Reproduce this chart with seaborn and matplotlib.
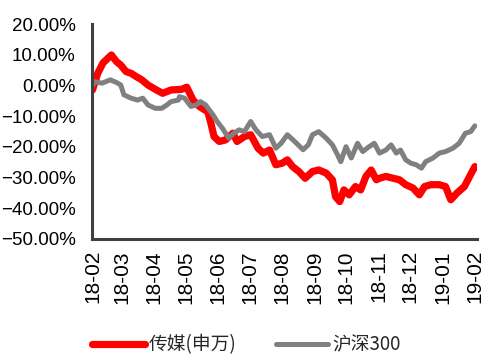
import matplotlib
matplotlib.use("Agg")
import matplotlib.pyplot as plt
import matplotlib.dates as mdates
from matplotlib.ticker import PercentFormatter, MultipleLocator
import pandas as pd
import seaborn as sns

# Cumulative return (%) of the media sector index (SW) and CSI 300
media_dates = [
    "2018-02-01", "2018-02-06", "2018-02-11", "2018-02-19", "2018-02-24", "2018-02-28",
    "2018-03-05", "2018-03-10", "2018-03-15", "2018-03-20", "2018-03-26", "2018-04-03",
    "2018-04-09", "2018-04-17", "2018-04-27", "2018-05-02", "2018-05-08", "2018-05-14",
    "2018-05-22", "2018-05-25", "2018-05-28", "2018-06-02", "2018-06-08", "2018-06-15",
    "2018-06-19", "2018-06-26", "2018-07-02", "2018-07-09", "2018-07-14", "2018-07-20",
    "2018-07-26", "2018-08-01", "2018-08-06", "2018-08-11", "2018-08-17", "2018-08-23",
    "2018-08-30", "2018-09-05", "2018-09-12", "2018-09-18", "2018-09-21", "2018-09-25",
    "2018-09-29", "2018-10-04", "2018-10-10", "2018-10-15", "2018-10-20", "2018-10-25",
    "2018-10-30", "2018-11-02", "2018-11-08", "2018-11-15", "2018-11-21", "2018-11-27",
    "2018-12-04", "2018-12-10", "2018-12-15", "2018-12-21", "2018-12-29", "2019-01-04",
    "2019-01-09", "2019-01-15", "2019-01-22", "2019-01-27", "2019-02-01",
]
media_values = [
    -1.4, 4.0, 7.4, 10.0, 7.8, 6.7,
    4.6, 4.0, 2.9, 1.9, 0.2, -1.4,
    -2.5, -1.4, -1.2, -0.5, -4.7, -6.8,
    -8.5, -12.2, -16.6, -18.2, -17.7, -15.5,
    -18.2, -16.6, -16.0, -20.4, -22.0, -21.0,
    -25.8, -25.3, -24.2, -26.4, -28.0, -30.2,
    -28.0, -27.5, -28.5, -30.7, -36.2, -37.8,
    -34.0, -35.6, -32.9, -34.0, -29.6, -27.5,
    -30.7, -30.2, -29.6, -30.2, -30.7, -32.3,
    -33.4, -35.6, -32.9, -32.3, -32.3, -32.9,
    -37.2, -35.0, -32.9, -29.6, -26.4,
]

csi_dates = [
    "2018-02-01", "2018-02-03", "2018-02-10", "2018-02-18", "2018-02-24", "2018-02-28",
    "2018-03-03", "2018-03-10", "2018-03-16", "2018-03-21", "2018-03-26", "2018-04-02",
    "2018-04-08", "2018-04-13", "2018-04-17", "2018-04-24", "2018-04-25", "2018-04-30",
    "2018-05-06", "2018-05-11", "2018-05-15", "2018-05-20", "2018-05-27", "2018-05-31",
    "2018-06-05", "2018-06-11", "2018-06-16", "2018-06-21", "2018-06-26", "2018-07-02",
    "2018-07-07", "2018-07-13", "2018-07-20", "2018-07-26", "2018-07-31", "2018-08-06",
    "2018-08-13", "2018-08-21", "2018-08-26", "2018-08-30", "2018-09-05", "2018-09-12",
    "2018-09-18", "2018-09-23", "2018-09-26", "2018-10-01", "2018-10-06", "2018-10-12",
    "2018-10-17", "2018-10-23", "2018-10-28", "2018-11-02", "2018-11-08", "2018-11-13",
    "2018-11-18", "2018-11-22", "2018-11-27", "2018-12-02", "2018-12-07", "2018-12-12",
    "2018-12-16", "2018-12-23", "2018-12-29", "2019-01-04", "2019-01-11", "2019-01-17",
    "2019-01-23", "2019-01-28", "2019-02-01",
]
csi_values = [
    0.0, 1.3, 0.8, 1.9, 1.0, 0.2,
    -3.0, -4.1, -4.7, -4.1, -6.3, -7.4,
    -7.4, -6.3, -5.2, -4.7, -3.6, -4.1,
    -6.8, -6.3, -5.2, -6.3, -9.5, -11.7,
    -13.9, -17.1, -15.5, -14.4, -15.0, -11.7,
    -14.4, -16.6, -16.0, -20.4, -18.8, -16.0,
    -18.2, -20.9, -19.3, -16.0, -15.0, -17.1,
    -19.3, -22.6, -24.8, -19.9, -23.6, -18.8,
    -21.5, -19.9, -18.8, -22.0, -21.0, -19.3,
    -22.0, -21.0, -24.2, -25.3, -25.8, -26.9,
    -24.8, -23.6, -22.0, -21.5, -20.4, -18.8,
    -15.5, -15.0, -13.1,
]

series_names = ["传媒(申万)", "沪深300"]
series_colors = ["#FF0000", "#808080"]
series_widths = [5.2, 3.6]

month_ticks = pd.date_range("2018-02-01", "2019-02-01", freq="MS")

sns.set_style("white")
plt.rcParams["font.family"] = ["Liberation Sans", "Noto Sans CJK SC", "DejaVu Sans"]

fig = plt.figure(figsize=(4.83, 3.55), dpi=100)
ax = fig.add_axes([0.1915, 0.3268, 0.796, 0.6047])

frames = [
    pd.DataFrame({"date": pd.to_datetime(media_dates), "value": media_values, "series": series_names[0]}),
    pd.DataFrame({"date": pd.to_datetime(csi_dates), "value": csi_values, "series": series_names[1]}),
]
for df, color, lw in zip(frames, series_colors, series_widths):
    sns.lineplot(data=df, x="date", y="value", color=color, linewidth=lw,
                 label=df["series"].iloc[0], ax=ax, solid_joinstyle="round",
                 solid_capstyle="round")

ax.set_xlim(pd.Timestamp("2018-02-01"), pd.Timestamp("2019-02-03"))
ax.set_ylim(-50, 20)
ax.yaxis.set_major_locator(MultipleLocator(10))
ax.yaxis.set_major_formatter(PercentFormatter(decimals=2))
ax.set_xticks(month_ticks)
ax.xaxis.set_major_formatter(mdates.DateFormatter("%y-%m"))
ax.set_xlabel("")
ax.set_ylabel("")

spine_color = "#404040"
for side in ["top", "right"]:
    ax.spines[side].set_visible(False)
for side in ["left", "bottom"]:
    ax.spines[side].set_color(spine_color)
    ax.spines[side].set_linewidth(2.2)

ax.tick_params(axis="both", which="major", direction="out", length=3,
               width=2.2, color=spine_color, labelcolor="black")
ax.tick_params(axis="y", pad=9, labelsize=13.5)
ax.tick_params(axis="x", pad=5, labelsize=15, labelrotation=90)

ax.legend(loc="lower left", bbox_to_anchor=(-0.02, -0.578), ncol=2, frameon=False,
          prop={"family": ["Noto Sans CJK SC", "DejaVu Sans"], "size": 13.5},
          handlelength=2.8, handletextpad=0.2, columnspacing=2.1, borderaxespad=0)

fig.savefig("out.png", dpi=100, facecolor="white")
